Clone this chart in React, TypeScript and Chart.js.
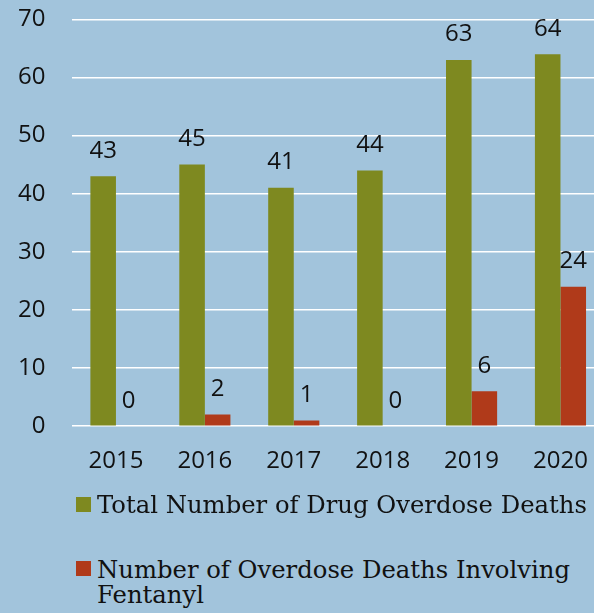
import React, { useEffect, useRef } from "react";
import { Chart, registerables } from "chart.js";

Chart.register(...registerables);

const years = ["2015", "2016", "2017", "2018", "2019", "2020"];
const totalDeaths = [43, 45, 41, 44, 63, 64];
const fentanylDeaths = [0, 2, 1, 0, 6, 24];
const yTicks = [0, 10, 20, 30, 40, 50, 60, 70];
const seriesNames = [
  "Total Number of Drug Overdose Deaths",
  "Number of Overdose Deaths Involving Fentanyl",
];

const BG = "#a2c4dc";
const GREEN = "#7e8920";
const RED = "#b03a1a";
const TEXT = "#111111";
const NUM_FONT = '"Open Sans", "Noto Sans", sans-serif';
const LEGEND_FONT = '"DejaVu Serif", serif';

const valueLabels = {
  id: "valueLabels",
  afterDatasetsDraw(chart: any) {
    const ctx = chart.ctx;
    ctx.save();
    ctx.font = `24px ${NUM_FONT}`;
    ctx.fillStyle = TEXT;
    ctx.textAlign = "center";
    ctx.textBaseline = "alphabetic";
    chart.data.datasets.forEach((ds: any, i: number) => {
      chart.getDatasetMeta(i).data.forEach((bar: any, j: number) => {
        ctx.fillText(String(ds.data[j]), bar.x, bar.y - 18.5);
      });
    });
    ctx.restore();
  },
};

export default function App() {
  const canvasRef = useRef<HTMLCanvasElement | null>(null);

  useEffect(() => {
    if (!canvasRef.current) return;
    const chart = new Chart(canvasRef.current, {
      type: "bar",
      data: {
        labels: years,
        datasets: [
          {
            label: seriesNames[0],
            data: totalDeaths,
            backgroundColor: GREEN,
            borderWidth: 0,
            categoryPercentage: 0.575,
            barPercentage: 1.0,
          },
          {
            label: seriesNames[1],
            data: fentanylDeaths,
            backgroundColor: RED,
            borderWidth: 0,
            categoryPercentage: 0.575,
            barPercentage: 1.0,
          },
        ],
      },
      options: {
        animation: false,
        responsive: true,
        maintainAspectRatio: false,
        layout: { padding: { top: 19.3, left: 18, right: 1, bottom: 6 } },
        plugins: {
          legend: { display: false },
          tooltip: { enabled: false },
        },
        scales: {
          x: {
            grid: { display: false, drawTicks: false },
            border: { display: false },
            ticks: {
              color: TEXT,
              font: { family: NUM_FONT, size: 24 },
              padding: 21,
            },
          },
          y: {
            min: 0,
            max: 70,
            afterBuildTicks: (scale: any) => {
              scale.ticks = yTicks.map((v) => ({ value: v }));
            },
            afterFit: (scale: any) => {
              scale.width = 53.5;
              scale.paddingTop = 0;
              scale.paddingBottom = 0;
            },
            grid: { color: "#ffffff", lineWidth: 1.5, drawTicks: false },
            border: { display: false },
            ticks: {
              color: TEXT,
              font: { family: NUM_FONT, size: 24 },
              padding: 26,
            },
          },
        },
      },
      plugins: [valueLabels],
    });
    return () => chart.destroy();
  }, []);

  const legendText: React.CSSProperties = {
    position: "absolute",
    left: 97,
    fontFamily: LEGEND_FONT,
    fontSize: 24.3,
    lineHeight: "24.3px",
    color: TEXT,
    whiteSpace: "nowrap",
  };

  return (
    <div
      style={{
        position: "fixed",
        left: 0,
        top: 0,
        width: 594,
        height: 613,
        overflow: "hidden",
        background: BG,
      }}
    >
      <div style={{ position: "absolute", left: 0, top: 0, width: 609, height: 503 }}>
        <canvas ref={canvasRef} />
      </div>
      <div
        style={{ position: "absolute", left: 76, top: 497, width: 15, height: 15, background: GREEN }}
      />
      <div style={{ ...legendText, top: 492.6 }}>{seriesNames[0]}</div>
      <div
        style={{ position: "absolute", left: 76, top: 561, width: 15, height: 15, background: RED }}
      />
      <div style={{ ...legendText, top: 558.3 }}>
        Number of Overdose Deaths Involving
        <br />
        Fentanyl
      </div>
    </div>
  );
}
